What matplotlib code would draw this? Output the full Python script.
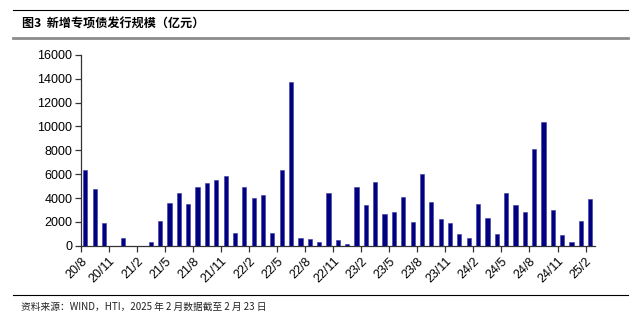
import numpy as np
import matplotlib
matplotlib.use("Agg")
import matplotlib.pyplot as plt
from matplotlib.lines import Line2D

plt.rcParams['font.family'] = ['Liberation Sans', 'Noto Sans CJK SC', 'DejaVu Sans']

# 新增专项债发行规模（亿元），2020/8 - 2025/2 按月
months = ["20/8", "20/9", "20/10", "20/11", "20/12",
          "21/1", "21/2", "21/3", "21/4", "21/5", "21/6", "21/7", "21/8", "21/9", "21/10", "21/11", "21/12",
          "22/1", "22/2", "22/3", "22/4", "22/5", "22/6", "22/7", "22/8", "22/9", "22/10", "22/11", "22/12",
          "23/1", "23/2", "23/3", "23/4", "23/5", "23/6", "23/7", "23/8", "23/9", "23/10", "23/11", "23/12",
          "24/1", "24/2", "24/3", "24/4", "24/5", "24/6", "24/7", "24/8", "24/9", "24/10", "24/11", "24/12",
          "25/1", "25/2"]
issuance = [6350, 4750, 1900, 0, 640,
            0, 0, 300, 2100, 3580, 4390, 3470, 4950, 5290, 5480, 5820, 1090,
            4900, 3970, 4220, 1090, 6350, 13730, 670, 590, 280, 4450, 500, 170,
            4950, 3410, 5340, 2690, 2800, 4080, 2010, 6040, 3640, 2210, 1900, 980,
            620, 3500, 2350, 950, 4450, 3380, 2850, 8080, 10350, 3020, 920, 280,
            2100, 3940]
tick_labels = months[::3]

fig = plt.figure(figsize=(6.38, 3.25), dpi=100)
ax = fig.add_axes([0.1265, 0.244, 0.806, 0.587])

x = np.arange(len(months))
ax.bar(x, issuance, width=0.45, color="#000080", edgecolor="#3a3aa0", linewidth=0.4, zorder=3)

ax.set_xlim(-0.5, len(months) - 0.5)
ax.set_ylim(0, 16000)
ax.set_yticks(np.arange(0, 16001, 2000))

# 刻度在类别边界，每 3 个月一个
ax.set_xticks(x[::3] - 0.5)
ax.set_xticklabels(tick_labels, rotation=45, ha="right", va="top", rotation_mode="anchor")

for side in ("top", "right"):
    ax.spines[side].set_visible(False)
for side in ("left", "bottom"):
    ax.spines[side].set_color("#333333")
    ax.spines[side].set_linewidth(0.9)
ax.tick_params(axis="both", direction="out", length=4, width=0.9, color="#333333",
               labelsize=9, labelcolor="#000000", pad=2)
ax.tick_params(axis="x", pad=3)

# 标题与上下分隔线
fig.add_artist(Line2D([13 / 638, 628 / 638], [1 - 10 / 325, 1 - 10 / 325],
                      color="#000000", linewidth=0.8))
fig.add_artist(Line2D([13 / 638, 628 / 638], [1 - 38 / 325, 1 - 38 / 325],
                      color="#8c8c8c", linewidth=2.0))
fig.text(22 / 638, 1 - 24 / 325, "图3  新增专项债发行规模（亿元）",
         family=["Noto Sans CJK SC", "DejaVu Sans"], fontweight="bold",
         fontsize=8.7, ha="left", va="center")

fig.add_artist(Line2D([13 / 638, 628 / 638], [1 - 295 / 325, 1 - 295 / 325],
                      color="#000000", linewidth=0.8))
fig.text(21 / 638, 1 - 307 / 325, "资料来源：WIND，HTI，2025 年 2 月数据截至 2 月 23 日",
         family=["Noto Sans CJK SC", "DejaVu Sans"], fontsize=7,
         ha="left", va="center", color="#222222")

fig.savefig("out.png", dpi=100)
